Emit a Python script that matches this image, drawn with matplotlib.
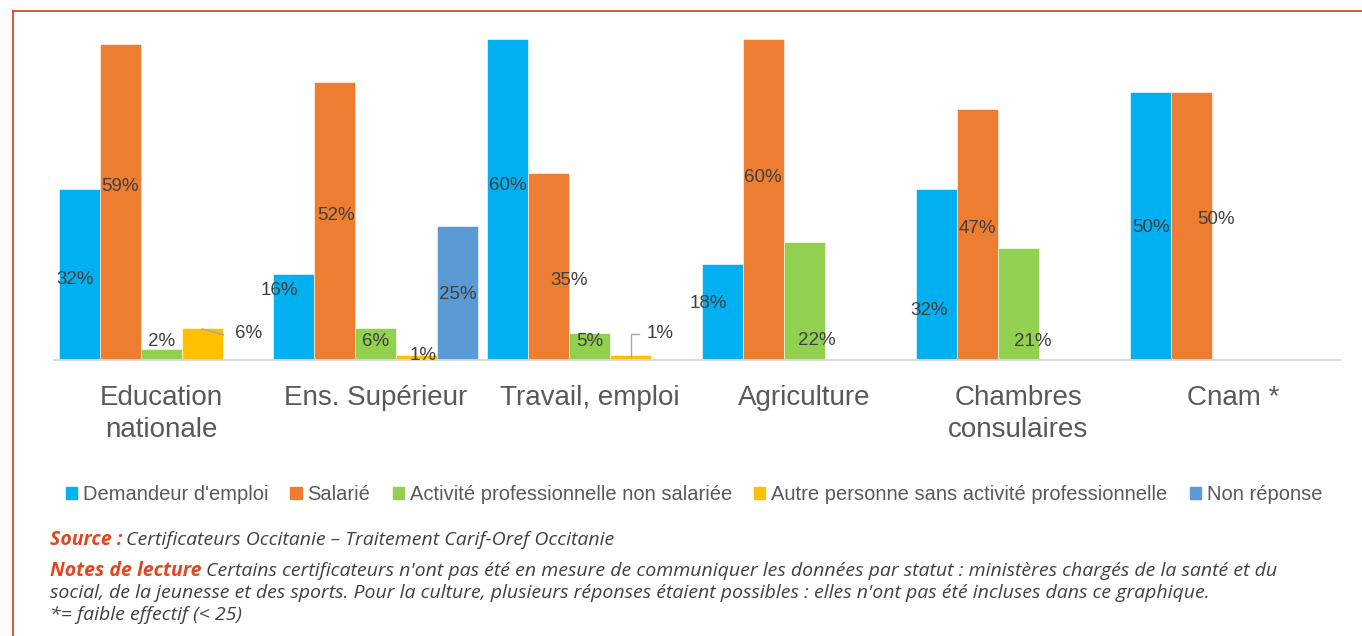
import matplotlib
matplotlib.use("Agg")
import matplotlib.pyplot as plt
from matplotlib.lines import Line2D
from matplotlib.patches import Rectangle

# ---------------- data ----------------
categories = ["Education\nnationale", "Ens. Supérieur", "Travail, emploi",
              "Agriculture", "Chambres\nconsulaires", "Cnam *"]
series_names = ["Demandeur d'emploi", "Salarié",
                "Activité professionnelle non salariée",
                "Autre personne sans activité professionnelle", "Non réponse"]
demandeur = [0.32, 0.16, 0.60, 0.18, 0.32, 0.50]
salarie = [0.59, 0.52, 0.35, 0.60, 0.47, 0.50]
non_salarie = [0.02, 0.06, 0.05, 0.22, 0.21, None]
autre = [0.06, 0.01, 0.01, None, None, None]
non_reponse = [None, 0.25, None, None, None, None]
series_values = [demandeur, salarie, non_salarie, autre, non_reponse]

# ---------------- style ----------------
colors = ["#00B0F0", "#ED7D31", "#92D050", "#FFC000", "#5B9BD5"]
FONT = "Liberation Sans"
NOTE_FONT = ["Open Sans", "DejaVu Sans"]
LABEL_C = "#404040"
AXIS_C = "#595959"
FRAME_C = "#E0471F"

# label placement: (series, category) -> (x offset in bar widths, y in data units)
label_pos = {
    (0, 0): (-0.10, 0.151), (1, 0): (0.0, 0.325), (2, 0): (0.0, 0.034), (3, 0): (1.12, 0.049),
    (0, 1): (-0.35, 0.129), (1, 1): (0.04, 0.271), (2, 1): (0.0, 0.034), (3, 1): (0.16, 0.009),
    (4, 1): (0.0, 0.123),
    (0, 2): (0.0, 0.327), (1, 2): (0.49, 0.148), (2, 2): (0.0, 0.034), (3, 2): (0.71, 0.049),
    (0, 3): (-0.34, 0.105), (1, 3): (0.0, 0.342), (2, 3): (0.32, 0.036),
    (0, 4): (-0.17, 0.093), (1, 4): (0.0, 0.245), (2, 4): (0.34, 0.034),
    (0, 5): (0.0, 0.247), (1, 5): (0.59, 0.262),
}
# leader lines: (series, category) -> list of (x offset in bar widths, y)
leaders = {
    (3, 0): [(0.0, 0.058), (0.52, 0.047)],
    (3, 2): [(0.0, 0.005), (0.0, 0.049), (0.20, 0.049)],
}

W, H = 1362, 636
fig = plt.figure(figsize=(W / 100, H / 100), dpi=100)
fig.patch.set_facecolor("white")

px_per_unit = 535.0  # pixels per 1.0 (100%)
ax_bottom_px, ax_top_px = 360, 20
ax = fig.add_axes([54 / W, 1 - ax_bottom_px / H, 1286 / W, (ax_bottom_px - ax_top_px) / H])
ax.set_xlim(-0.5, len(categories) - 0.5)
ax.set_ylim(0, (ax_bottom_px - ax_top_px) / px_per_unit)

bw = 41 / 214.3
n_s = len(series_values)
for j, vals in enumerate(series_values):
    xs = [i + (j - (n_s - 1) / 2) * bw for i in range(len(categories))]
    hs = [v if v is not None else 0 for v in vals]
    ax.bar(xs, hs, width=bw, color=colors[j], edgecolor="white", linewidth=0.4,
           label=series_names[j], zorder=2)
    for i, v in enumerate(vals):
        if v is None:
            continue
        dx, y = label_pos[(j, i)]
        ax.text(xs[i] + dx * bw, y, f"{round(v * 100):d}%", ha="center", va="center",
                fontsize=13.5, color=LABEL_C, family=FONT, zorder=4)
        if (j, i) in leaders:
            pts = leaders[(j, i)]
            ax.plot([xs[i] + p[0] * bw for p in pts], [p[1] for p in pts],
                    color="#A6A6A6", lw=1.0, zorder=3)

for s in ["top", "right", "left"]:
    ax.spines[s].set_visible(False)
ax.spines["bottom"].set_color("#D9D9D9")
ax.spines["bottom"].set_linewidth(1.4)
ax.set_yticks([])
ax.set_xticks(range(len(categories)))
ax.set_xticklabels(categories, fontsize=20, color=AXIS_C, family=FONT, linespacing=1.3)
ax.tick_params(axis="x", length=0, pad=18)

# legend
handles = [Rectangle((0, 0), 1, 1, color=c) for c in colors]
leg = fig.legend(handles, series_names, loc="center", bbox_to_anchor=(694 / W, 1 - 495 / H),
                 ncol=5, frameon=False, prop={"family": FONT, "size": 14.5},
                 handlelength=0.55, handleheight=0.55, handletextpad=0.3, columnspacing=1.1)
for t in leg.get_texts():
    t.set_color(AXIS_C)

# frame
fig.add_artist(Line2D([12.5 / W, 1.0], [1 - 10.5 / H, 1 - 10.5 / H], color=FRAME_C, lw=1.3))
fig.add_artist(Line2D([12.5 / W, 12.5 / W], [0.0, 1 - 10.5 / H], color=FRAME_C, lw=1.3))

# source and notes
renderer = fig.canvas.get_renderer()
NOTE_SIZE = 14
NOTE_C = "#404040"


def two_part(y_px, bold_txt, rest_txt):
    t1 = fig.text(50 / W, 1 - y_px / H, bold_txt, fontsize=NOTE_SIZE, color=FRAME_C,
                  fontweight="bold", style="italic", family=NOTE_FONT, va="center", ha="left")
    bb = t1.get_window_extent(renderer=renderer)
    fig.text(bb.x1 / W + 4 / W, 1 - y_px / H, rest_txt, fontsize=NOTE_SIZE, color=NOTE_C,
             style="italic", family=NOTE_FONT, va="center", ha="left")


two_part(540, "Source :", "Certificateurs Occitanie – Traitement Carif-Oref Occitanie")
two_part(571, "Notes de lecture",
         "Certains certificateurs n'ont pas été en mesure de communiquer les données par statut : "
         "ministères chargés de la santé et du")
fig.text(50 / W, 1 - 593 / H,
         "social, de la jeunesse et des sports. Pour la culture, plusieurs réponses étaient possibles : "
         "elles n'ont pas été incluses dans ce graphique.",
         fontsize=NOTE_SIZE, color=NOTE_C, style="italic", family=NOTE_FONT, va="center", ha="left")
fig.text(50 / W, 1 - 615 / H, "*= faible effectif (< 25)",
         fontsize=NOTE_SIZE, color=NOTE_C, style="italic", family=NOTE_FONT, va="center", ha="left")

fig.savefig("out.png", dpi=100, facecolor="white")
